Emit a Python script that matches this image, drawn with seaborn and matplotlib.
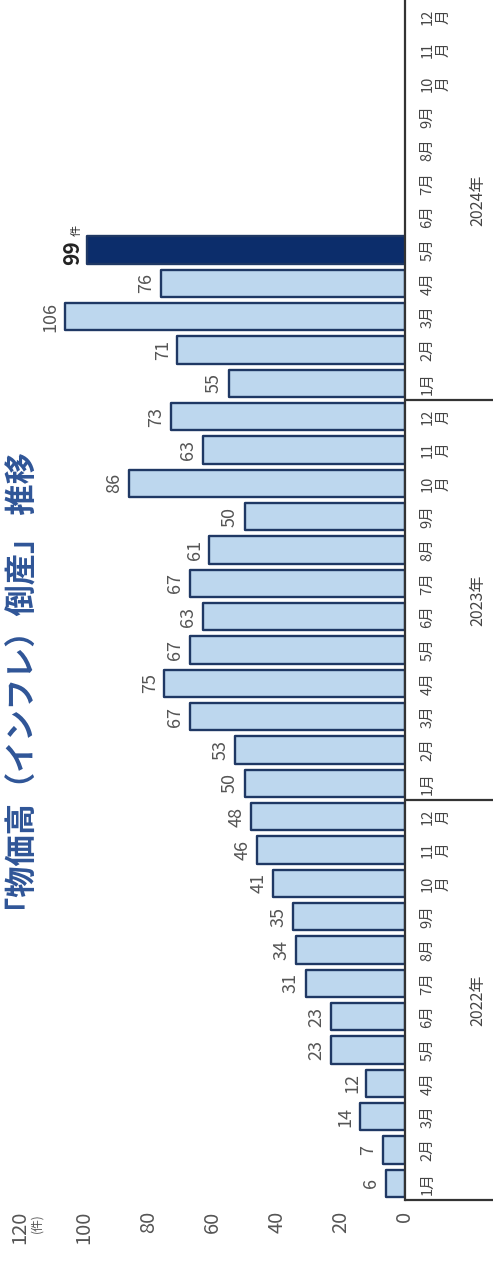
import numpy as np
import pandas as pd
import matplotlib
matplotlib.use("Agg")
import matplotlib.pyplot as plt
import matplotlib.transforms as mtransforms
import seaborn as sns

# Monthly counts of inflation-driven bankruptcies
years = ["2022年", "2023年", "2024年"]
month_labels = ["1月", "2月", "3月", "4月", "5月", "6月", "7月", "8月", "9月",
                "10\n月", "11\n月", "12\n月"]
counts_2022 = [6, 7, 14, 12, 23, 23, 31, 34, 35, 41, 46, 48]
counts_2023 = [50, 53, 67, 75, 67, 63, 67, 61, 50, 86, 63, 73]
counts_2024 = [55, 71, 106, 76, 99]          # Jan-May
value_ticks = [0, 20, 40, 60, 80, 100, 120]
title = "「物価高（インフレ）倒産」 推移"
unit = "件"

sns.set_theme(style="white")
plt.rcParams["font.family"] = ["Noto Sans CJK JP", "DejaVu Sans"]

# table: one row per month, months without data stay empty
rows = []
for y, vals in zip(years, [counts_2022, counts_2023, counts_2024]):
    for m in range(12):
        rows.append({"period": f"{y}{m + 1:02d}",
                     "count": vals[m] if m < len(vals) else np.nan})
df = pd.DataFrame(rows)
order = list(df["period"])
n = len(order)

latest = df["count"].last_valid_index()
light, dark, edge = "#bdd7ee", "#0c2d6b", "#1f3864"
palette = {p: (dark if i == latest else light) for i, p in enumerate(order)}

W, H = 493, 1265
fig = plt.figure(figsize=(W / 100, H / 100), dpi=100)
ax = fig.add_axes([20 / W, 65 / H, 385 / W, 1200 / H])

sns.barplot(data=df, x="count", y="period", hue="period", order=order,
            hue_order=order, palette=palette, orient="h", legend=False,
            width=0.82, edgecolor=edge, linewidth=1.7, saturation=1, ax=ax)
for p in ax.patches:
    p.set_joinstyle("round")

ax.set_xlim(value_ticks[-1], 0)
ax.set_ylim(-0.5, n - 0.5)

# value axis (ticks below the chart, rotated)
ax.set_xticks(value_ticks)
ax.set_xticklabels([str(v) for v in value_ticks], rotation=90,
                   fontsize=14.5, color="#555555")
ax.tick_params(axis="x", length=0, pad=8)
ax.set_xlabel("")
trans_x = mtransforms.blended_transform_factory(ax.transData, fig.transFigure)
ax.text(value_ticks[-1] - 5.2, 1 - 1213 / H, f"({unit})", rotation=90,
        ha="center", va="top", fontsize=8.5, color="#555555",
        transform=trans_x, clip_on=False)

# month labels on the right side
ax.yaxis.tick_right()
ax.set_yticks(range(n))
ax.set_yticklabels(month_labels * len(years), rotation=90, fontsize=10.5,
                   color="#444444", va="center", ha="left",
                   multialignment="center")
ax.tick_params(axis="y", length=0, pad=11)
ax.set_ylabel("")

for s in ["left", "top", "bottom"]:
    ax.spines[s].set_visible(False)
ax.spines["right"].set_color("#333333")
ax.spines["right"].set_linewidth(1.6)

# year dividers and year labels
trans = mtransforms.blended_transform_factory(ax.transAxes, ax.transData)
for k, y in enumerate(years):
    start = k * 12 - 0.5
    ax.plot([1, 1 + 90 / 385], [start, start], transform=trans,
            color="#333333", lw=1.6, clip_on=False)
    ax.text(1 + 73 / 385, k * 12 + 5.5, y, rotation=90, ha="center",
            va="center", fontsize=11.5, color="#444444", transform=trans)

# value labels
for i, v in enumerate(df["count"]):
    if np.isnan(v):
        continue
    if i == latest:
        ax.annotate(f"{int(v)}", (v, i), xytext=(-3, -2),
                    textcoords="offset points", rotation=90, ha="right",
                    va="center", fontsize=15, fontweight="bold",
                    color="#222222")
        ax.annotate(unit, (v, i), xytext=(-4, 14),
                    textcoords="offset points", rotation=90, ha="right",
                    va="center", fontsize=8, color="#222222")
    else:
        ax.annotate(f"{int(v)}", (v, i), xytext=(-4, 0),
                    textcoords="offset points", rotation=90, ha="right",
                    va="center", fontsize=13, color="#555555")

fig.text(23 / W, 1 - 690 / H, title, rotation=90, ha="center", va="center",
         fontsize=22.5, fontweight="bold", color="#2f5597")

fig.savefig("out.png", dpi=100, facecolor="white")
